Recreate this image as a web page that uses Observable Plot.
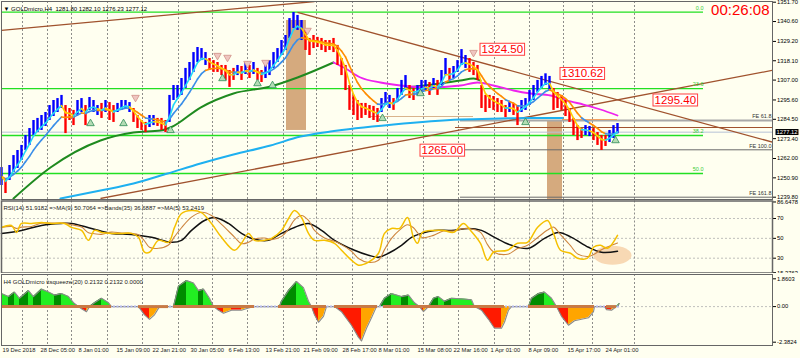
<!DOCTYPE html>
<html><head><meta charset="utf-8">
<script src="https://cdn.jsdelivr.net/npm/d3@7"></script>
<script src="https://cdn.jsdelivr.net/npm/@observablehq/plot@0.6"></script>
<style>
html,body{margin:0;padding:0;background:#fffff0;}
#chart{position:relative;width:800px;height:358px;background:#fffff0;overflow:hidden;}
</style></head><body><div id="chart"></div>
<script>
const FONT = "'Liberation Sans', Arial, sans-serif";
const BG = "#fffff0";

// ---------- main panel: GOLDmicro H4 (one sample = 4 bars) ----------
const sampleStep = 4;
const priceHigh = [1256.8,1250.5,1258.0,1263.7,1266.6,1269.5,1275.2,1279.2,1283.8,1285.0,
1286.7,1288.4,1292.4,1295.3,1296.4,1298.2,1292.4,1290.7,1289.6,1295.3,
1296.4,1292.4,1297.0,1295.3,1292.4,1293.6,1295.3,1294.1,1292.4,1293.6,
1295.3,1295.3,1294.1,1290.7,1286.7,1283.8,1282.7,1286.7,1286.7,1285.0,
1285.0,1283.8,1298.2,1303.9,1303.9,1307.9,1313.7,1317.1,1322.8,1325.7,
1325.1,1322.8,1319.4,1318.2,1317.1,1315.4,1315.4,1312.5,1313.7,1315.4,
1314.8,1317.1,1315.4,1317.1,1313.7,1312.5,1315.4,1318.2,1322.8,1325.1,
1329.7,1332.6,1342.3,1345.8,1344.1,1341.2,1335.5,1330.9,1332.6,1331.5,
1330.9,1329.7,1329.7,1330.9,1326.9,1319.4,1315.4,1303.9,1298.2,1295.3,
1293.6,1293.6,1292.4,1291.9,1290.7,1296.4,1299.9,1298.2,1296.4,1302.2,
1306.8,1309.6,1303.9,1302.2,1303.9,1306.8,1306.8,1305.6,1307.9,1306.8,
1312.5,1319.4,1313.7,1314.8,1318.2,1324.5,1321.1,1319.4,1317.1,1315.4,
1303.9,1298.2,1298.2,1297.6,1296.4,1295.3,1292.4,1294.1,1293.6,1292.4,
1295.3,1296.4,1301.0,1303.9,1306.8,1309.1,1310.6,1309.1,1302.2,1299.9,
1298.2,1295.3,1290.7,1285.0,1280.9,1279.2,1280.9,1280.4,1279.2,1276.9,
1275.2,1275.2,1278.1,1280.9,1282.1];
const priceLow = [1246.5,1241.9,1249.4,1254.0,1256.3,1260.9,1266.6,1269.5,1275.2,1276.9,
1278.1,1280.4,1283.8,1286.1,1288.4,1290.7,1276.3,1283.8,1280.9,1286.7,
1288.4,1280.9,1289.6,1288.4,1286.7,1285.0,1288.4,1283.8,1282.7,1288.4,
1289.6,1290.7,1288.4,1282.7,1279.2,1278.1,1276.9,1279.8,1280.9,1280.4,
1278.1,1276.9,1282.7,1295.3,1296.4,1298.2,1302.2,1306.8,1311.4,1317.1,
1318.2,1315.4,1312.5,1311.4,1311.4,1309.6,1306.8,1302.8,1306.8,1309.6,
1306.8,1310.2,1307.9,1310.2,1306.8,1305.6,1307.9,1309.6,1313.7,1317.1,
1321.1,1324.0,1330.9,1336.6,1335.5,1329.7,1324.0,1321.1,1325.1,1325.7,
1324.0,1322.8,1324.0,1322.8,1315.4,1309.6,1301.0,1289.6,1286.7,1283.8,
1285.0,1286.7,1285.0,1283.8,1282.7,1288.4,1292.4,1290.7,1289.6,1295.3,
1298.2,1301.0,1296.4,1295.3,1298.2,1299.9,1301.0,1298.2,1302.2,1298.2,
1303.9,1309.6,1306.8,1307.9,1311.4,1315.4,1313.7,1311.4,1309.6,1306.8,
1290.7,1288.4,1290.7,1289.6,1288.4,1288.4,1285.5,1288.4,1286.7,1280.9,
1288.4,1289.6,1292.4,1295.3,1299.9,1302.2,1303.9,1301.0,1289.6,1290.7,
1289.6,1286.1,1282.7,1275.2,1272.3,1273.5,1275.2,1274.6,1272.3,1269.5,
1266.6,1268.9,1271.2,1273.5,1276.2];
// b = blue (up) bar, r = red (down) bar
const barDir = "brbbbbbbbb"+"bbbbbbrrrb"+"brbbbrbrrb"+"bbbrrrrbbr"+"rrbbbbbbbb"+
               "bbrrrrrrrb"+"rbrbrrbbbb"+"bbbbbbrrrr"+"rrrrrrrrrr"+"rrrrrbbbrb"+
               "bbrrbbbrbr"+"bbrbbbbrrr"+"rrrrrrrbrr"+"bbbbbbbbrr"+"rrrrrrbbrr"+"rrbbb";

const priceTicks = [1351.70,1340.60,1329.20,1318.10,1307.00,1295.60,1284.50,1273.40,1262.00,1250.90,1239.80];
const gridBars = [21,46,70,106,141,177,211,246,282,315,351,386,422,457,493,528,562,591,633];
const timeLabels = ["19 Dec 2018","28 Dec 05:00","8 Jan 01:00","15 Jan 09:00","22 Jan 21:00","30 Jan 05:00",
  "6 Feb 13:00","13 Feb 21:00","21 Feb 09:00","28 Feb 17:00","8 Mar 01:00","15 Mar 08:00","22 Mar 16:00",
  "1 Apr 01:00","8 Apr 09:00","15 Apr 17:00","24 Apr 01:00"];
const timeLabelBars = [1,39,77,115,151,189,227,264,302,341,377,416,452,489,527,566,604];

// Fibonacci retracement levels
const fiboNames = ["0.0","23.6","38.2","50.0"];
const fiboPrices = [1346.0,1302.1,1275.2,1253.4];
const fiboEndBar = 702;
// Fibonacci expansion levels
const feNames = ["FE 61.8","FE 100.0","FE 161.8"];
const fePrices = [1283.8,1267.0,1239.8];
const feStartBar = 459;

// trend lines
const trendStartBar = [0,296,99];
const trendStartPrice = [1335.5,1345.8,1239.05];
const trendEndBar = [313,771,771];
const trendEndPrice = [1352.1,1271.4,1312.6];

// tan boxes
const boxStartBar = [285,546];
const boxEndBar = [305,561];
const boxTopPrice = [1341.2,1283.8];
const boxBottomPrice = [1278.1,1238.5];

// short horizontal segments
const segStartBar = [369,561,454];
const segEndBar = [472,616,771];
const segPrice = [1286.1,1284.4,1279.8];
const segColor = ["#d9b48c","#f0a060","#a0522d"];

const lastPrice = 1277.12;

// long moving averages
const skyBars = [59,99,132,166,199,232,269,299,329,392,459,499,529,561];
const skyPrices = [1239.05,1243.64,1247.66,1253.39,1259.13,1264.30,1269.46,1274.63,1277.50,1281.52,1284.39,1284.96,1285.25,1285.25];
const greenBars = [12,49,99,132,159,169,199,232,269,296,332];
const greenPrices = [1239.05,1256.84,1272.34,1276.92,1278.07,1279.79,1291.27,1299.31,1303.33,1308.49,1317.10];
const magentaBars = [332,344,359,379,399,426,459,476,492,512,529,549,569,582,599,616];
const magentaPrices = [1317.10,1313.65,1308.49,1305.62,1303.90,1302.75,1303.90,1305.62,1303.90,1301.03,1299.31,1298.16,1294.72,1292.99,1290.13,1286.68];
const green2Bars = [406,439,459,472,479];
const green2Prices = [1302.75,1305.05,1306.77,1307.91,1306.77];

// fractal arrows
const fracHighBars = [134,216,226,246,264,306,472];
const fracHighPrices = [1297.0,1321.1,1320.0,1316.5,1317.1,1335.5,1322.8];
const fracLowBars = [89,122,169,221,256,271,381,419,524,614];
const fracLowPrices = [1282.1,1282.1,1278.1,1307.9,1305.0,1303.9,1285.0,1299.3,1282.7,1272.3];

// price labels
const labelTexts = ["1324.50","1310.62","1295.40","1265.00"];
const labelBars = [478,558,651,418];
const labelPrices = [1324.50,1310.62,1295.40,1266.6];

const titleText = "\u25BC GOLDmicro,H4  1281.80 1282.10 1276.23 1277.12";
const clockText = "00:26:08";

// ---------- RSI panel ----------
const rsiHeader = "RSI(14) 51.9182 =>MA(9) 50.7064 =>Bands(35) 36.6887 =>MA(5) 53.2419";
const rsiBars = [0,10,15,20,30,40,50,63,70,80,87,93,100,110,120,130,137,143,148,157,167,173,180,190,200,210,220,233,240,247,253,263,270,280,287,293,300,307,313,323,333,340,350,357,367,377,383,390,398,406,412,416,421,432,442,452,462,469,479,486,492,506,516,526,536,546,552,559,569,576,586,592,599,606,616];
const rsiVals = [61,63,56,65,65,66,65,65,61,58,48,58,56,55,55,55,51,36,36,48,46,61,75,78,76,65,51,38,45,55,48,48,50,58,70,78,71,55,48,48,45,38,28,23,26,35,55,60,60,71,51,45,56,58,58,56,65,58,45,28,36,38,45,46,61,68,55,38,35,30,30,41,43,40,53];
const rsiSlowBars = [0,20,40,60,70,90,110,130,150,170,180,190,203,213,227,240,253,267,280,293,307,320,333,353,367,377,387,400,410,420,433,450,467,480,493,510,527,543,557,570,587,600,616];
const rsiSlowVals = [55,58,63,65,65,60,55,54,51,46,48,58,68,71,65,55,49,48,55,61,65,58,48,38,33,31,35,43,51,55,58,58,60,58,51,43,40,50,56,51,41,36,37];
const rsiTicks = [86.6478,70,50,30,15.3763];
const rsiTickLabels = ["86.6478","70","50","30","15.3763"];
const rsiLevels = [70,50,30];
const highlightBar = 611, highlightRsi = 33;

// ---------- squeeze panel ----------
const sqHeader = "H4 GOLDmicro ttsqueeze(20) 0.2132 0.2132 0.0000";
const sqBars = [0,7,13,18,27,32,40,47,53,60,67,72,77,80,85,88,93,100,107,110,137,143,148,153,158,172,177,185,192,197,202,208,212,217,222,230,240,247,252,278,280,287,295,302,307,310,313,317,322,325,333,340,350,357,360,365,370,375,378,383,390,400,407,413,418,422,427,432,437,443,450,460,470,473,480,487,493,500,503,507,510,527,530,537,543,550,555,560,567,573,580,587,592,593,603,605,610,615,618];
const sqVals = [0.87,0.67,0.97,0.56,1.07,0.67,1.17,0.97,0.77,0.87,0.67,0.26,0,-0.14,-0.34,0,0.26,0.56,0.26,0,0,-0.55,-0.85,-0.55,0,0,1.37,1.74,1.58,1.07,1.17,0.56,0,-0.24,-0.44,-0.24,-0.24,-0.1,0,0,0.36,1.07,1.68,1.27,0.36,0,-0.55,-1.05,-0.65,0,0,-0.34,-1.25,-2.06,-2.3,-1.45,-0.75,0,0,0.56,0.87,0.67,0.77,0.26,0,-0.34,0,0.56,0.67,0.36,0.56,0.52,0.46,0,-0.24,-0.85,-1.45,-1.45,-1.05,-0.24,0,0,0.56,0.87,0.97,0.56,0,-0.65,-1.25,-0.95,-0.85,-0.75,-0.34,0,0,-0.2,-0.24,0,0.2];
const sqOnStart = [0,137,172,277,333,382,527,605];
const sqOnEnd = [110,167,253,325,376,503,593,615];
const sqTicks = [1.8603,0,-2.3824];
const sqTickLabels = ["1.8603","0.00","-2.3824"];

// ================= build =================
const samples = priceHigh.map((h, i) => ({bar: i * sampleStep, hi: h, lo: priceLow[i], dir: barDir[i]}));
const mid = samples.map(d => (d.hi + d.lo) / 2);
function ema(vals, a) { const out = []; let e = vals[0]; for (const v of vals) { e += a * (v - e); out.push(e); } return out; }
const fastMA = ema(mid, 0.5), slowMA = ema(mid, 0.22);
function colorSegments(ma, upC, dnC) {
  const out = [];
  for (let i = 1; i < samples.length; i++) {
    const c = samples[i].dir === "b" ? upC : dnC;
    out.push({bar: samples[i-1].bar, p: ma[i-1], s: i, c}, {bar: samples[i].bar, p: ma[i], s: i, c});
  }
  return out;
}
const fastSegs = colorSegments(fastMA, "#22d8f8", "#ffcc00");
const slowSegs = colorSegments(slowMA, "#3a8ee8", "#ff8c00");

const zip = (bars, vals) => bars.map((b, i) => ({bar: b, p: vals[i]}));
const fibo = fiboNames.map((n, i) => ({name: n, p: fiboPrices[i]}));
const fe = feNames.map((n, i) => ({name: n, p: fePrices[i]}));
const trends = trendStartBar.map((b, i) => ({b1: b, p1: trendStartPrice[i], b2: trendEndBar[i], p2: trendEndPrice[i]}));
const boxes = boxStartBar.map((b, i) => ({b1: b, b2: boxEndBar[i], p1: boxTopPrice[i], p2: boxBottomPrice[i]}));
const segs = segStartBar.map((b, i) => ({b1: b, b2: segEndBar[i], p: segPrice[i], c: segColor[i]}));
const plabels = labelTexts.map((t, i) => ({t, bar: labelBars[i], p: labelPrices[i]}));

const xDomain = [0, 771];
const common = {width: 800, marginLeft: 1, marginRight: 28, x: {domain: xDomain, axis: null}, color: {type: "identity"},
  style: {background: BG, fontFamily: FONT, fontSize: "6px", color: "#000", overflow: "visible"}};

const main = Plot.plot({
  ...common, height: 200, marginTop: 1, marginBottom: 1,
  y: {domain: [1238.48, 1352.10]},
  marks: [
    Plot.rect(boxes, {x1: "b1", x2: "b2", y1: "p1", y2: "p2", fill: "#d5aa7e"}),
    Plot.ruleX(gridBars, {stroke: "#707070", strokeDasharray: "2,2", strokeWidth: 0.8}),
    Plot.ruleY(fibo, {y: "p", x1: () => 0, x2: () => fiboEndBar, stroke: "#22e022", strokeWidth: 1.4}),
    Plot.ruleY([lastPrice], {x1: () => 0, x2: () => 771, stroke: "#b6c2d6", strokeWidth: 1}),
    Plot.ruleY(fe.slice(0, 1), {y: "p", x1: () => feStartBar, x2: () => 771, stroke: "#a8a8a8", strokeWidth: 2}),
    Plot.ruleY(fe.slice(1), {y: "p", x1: () => feStartBar, x2: () => 771, stroke: "#6a6a6a", strokeWidth: 1}),
    Plot.ruleY(segs, {y: "p", x1: "b1", x2: "b2", stroke: "c", strokeWidth: 1.2}),
    Plot.link(trends, {x1: "b1", y1: "p1", x2: "b2", y2: "p2", stroke: "#a0522d", strokeWidth: 1.3, clip: true}),
    Plot.line(zip(skyBars, skyPrices), {x: "bar", y: "p", stroke: "#1eb0f0", strokeWidth: 2, curve: "monotone-x", clip: true}),
    Plot.line(zip(greenBars, greenPrices), {x: "bar", y: "p", stroke: "#1f8a1f", strokeWidth: 2, curve: "monotone-x", clip: true}),
    Plot.line(zip(green2Bars, green2Prices), {x: "bar", y: "p", stroke: "#1f8a1f", strokeWidth: 2, curve: "monotone-x"}),
    Plot.line(zip(magentaBars, magentaPrices), {x: "bar", y: "p", stroke: "#ee22ee", strokeWidth: 1.8, curve: "monotone-x"}),
    Plot.ruleX(samples, {x: "bar", y1: "lo", y2: "hi", stroke: d => d.dir === "b" ? "#0000ff" : "#ff0000", strokeWidth: 2.4}),
    Plot.line(slowSegs, {x: "bar", y: "p", z: "s", stroke: "c", strokeWidth: 1.6}),
    Plot.line(fastSegs, {x: "bar", y: "p", z: "s", stroke: "c", strokeWidth: 1.6}),
    Plot.dot(zip(fracHighBars, fracHighPrices), {x: "bar", y: "p", symbol: "triangle", rotate: 180, r: 2.8, fill: "#efc6c0", stroke: "#d09088", strokeWidth: 0.8}),
    Plot.dot(zip(fracLowBars, fracLowPrices), {x: "bar", y: "p", symbol: "triangle", r: 2.8, fill: "#b4dcb4", stroke: "#2e8b57", strokeWidth: 0.8}),
    Plot.text(fibo, {x: () => fiboEndBar, y: "p", text: "name", textAnchor: "end", dy: -4, fill: "#33cc33", fontSize: 5.5}),
    Plot.text(fe, {x: () => 771, y: "p", text: "name", textAnchor: "end", dx: -1, dy: -4, fill: "#333", fontSize: 5.5}),
    Plot.text(plabels, {x: "bar", y: "p", text: "t", textAnchor: "start", dx: 2, fill: "#ff0000", fontSize: 11.5}),
    Plot.text([lastPrice], {x: () => 771, y: d => d, text: d => d.toFixed(2), textAnchor: "start", dx: 4, fill: "#ffffff", fontSize: 5.8}),
    Plot.text([titleText], {frameAnchor: "top-left", text: d => d, dx: 2, dy: 5, fill: "#000", fontSize: 6}),
    Plot.text([clockText], {frameAnchor: "top-right", text: d => d, dx: -3, dy: 3, lineAnchor: "top", fill: "#ff0000", fontSize: 15}),
    Plot.axisY({anchor: "right", ticks: priceTicks, tickFormat: d => d.toFixed(2), tickSize: 3, tickPadding: 1.5, label: null, fontSize: 5.8}),
    Plot.frame({stroke: "#666", strokeWidth: 1})
  ]
});

const ellipseSymbol = {draw(ctx, size) {
  const r = Math.sqrt(size / Math.PI), rx = 2 * r, ry = r, k = 0.5523;
  ctx.moveTo(rx, 0);
  ctx.bezierCurveTo(rx, ry * k, rx * k, ry, 0, ry);
  ctx.bezierCurveTo(-rx * k, ry, -rx, ry * k, -rx, 0);
  ctx.bezierCurveTo(-rx, -ry * k, -rx * k, -ry, 0, -ry);
  ctx.bezierCurveTo(rx * k, -ry, rx, -ry * k, rx, 0);
  ctx.closePath();
}};
const rsi = rsiBars.map((b, i) => ({bar: b, v: rsiVals[i]}));
const rsiSlow = rsiSlowBars.map((b, i) => ({bar: b, v: rsiSlowVals[i]}));
const rsiLabelMap = new Map(rsiTicks.map((t, i) => [t, rsiTickLabels[i]]));

const rsiPlot = Plot.plot({
  ...common, height: 73, marginTop: 0.5, marginBottom: 0.5,
  y: {domain: [15.09, 87.63]},
  marks: [
    Plot.ruleX(gridBars, {stroke: "#707070", strokeDasharray: "2,2", strokeWidth: 0.8}),
    Plot.ruleY(rsiLevels, {stroke: "#b0b0b0", strokeDasharray: "2,2", strokeWidth: 0.8}),
    Plot.dot([{bar: highlightBar, v: highlightRsi}], {x: "bar", y: "v", symbol: ellipseSymbol, r: 9.5, fill: "#f8d9b4", stroke: "none"}),
    Plot.line(rsiSlow, {x: "bar", y: "v", stroke: "#111", strokeWidth: 1.5, curve: "catmull-rom"}),
    Plot.line(rsi, Plot.windowY({k: 3, anchor: "end", reduce: "mean"}, {x: "bar", y: "v", stroke: "#cd853f", strokeWidth: 1.1, curve: "catmull-rom"})),
    Plot.line(rsi, {x: "bar", y: "v", stroke: "#f5c000", strokeWidth: 1.5, curve: "catmull-rom"}),
    Plot.text([rsiHeader], {frameAnchor: "top-left", text: d => d, dx: 2, dy: 4.5, fill: "#222", fontSize: 6}),
    Plot.axisY({anchor: "right", ticks: rsiTicks, tickFormat: d => rsiLabelMap.get(d), tickSize: 3, tickPadding: 1.5, label: null, fontSize: 5.8}),
    Plot.frame({stroke: "#666", strokeWidth: 1.5})
  ]
});

const sq = sqBars.map((b, i) => ({bar: b, v: sqVals[i]}));
const sqPairs = [];
for (let i = 1; i < sq.length; i++) {
  const a = sq[i-1], b = sq[i], m = (a.v + b.v) / 2;
  let c;
  if (m >= 0) c = b.v >= a.v ? "#008c00" : "#22ee22";
  else c = b.v <= a.v ? "#ff1a00" : "#ffa500";
  sqPairs.push({bar: a.bar, v: a.v, s: i, c}, {bar: b.bar, v: b.v, s: i, c});
}
const sqOn = sqOnStart.map((s, i) => ({b1: s, b2: sqOnEnd[i]}));
const sqLabelMap = new Map(sqTicks.map((t, i) => [t, sqTickLabels[i]]));
const times = timeLabels.map((t, i) => ({t, bar: timeLabelBars[i]}));

const sqPlot = Plot.plot({
  ...common, height: 85, marginTop: 1, marginBottom: 13,
  y: {domain: [-2.604, 2.149]},
  marks: [
    Plot.ruleX(gridBars, {stroke: "#707070", strokeDasharray: "2,2", strokeWidth: 0.8}),
    Plot.ruleY([0], {stroke: "#b0b0b0", strokeDasharray: "2,2", strokeWidth: 0.8}),
    Plot.area(sqPairs, {x1: "bar", y1: () => 0, y2: "v", z: "s", fill: "c"}),
    Plot.line(sq, {x: "bar", y: "v", stroke: "#8a8a8a", strokeWidth: 1.1}),
    Plot.ruleY([0], {x1: () => 0, x2: () => 618, stroke: "#b4b8ec", strokeDasharray: "2,1.5", strokeWidth: 2}),
    Plot.ruleY(sqOn, {y: () => 0, x1: "b1", x2: "b2", stroke: "#c87a45", strokeWidth: 3}),
    Plot.text([sqHeader], {frameAnchor: "top-left", text: d => d, dx: 2, dy: 5, fill: "#222", fontSize: 6}),
    Plot.text(times, {x: "bar", text: "t", frameAnchor: "bottom", textAnchor: "start", dy: 6, fill: "#222", fontSize: 5.8}),
    Plot.axisY({anchor: "right", ticks: sqTicks, tickFormat: d => sqLabelMap.get(d), tickSize: 3, tickPadding: 1.5, label: null, fontSize: 5.8}),
    Plot.frame({stroke: "#666", strokeWidth: 1})
  ]
});

const container = document.getElementById("chart");
function place(svg, top) {
  svg.style.position = "absolute"; svg.style.left = "0px"; svg.style.top = top + "px";
  container.appendChild(svg);
}
place(main, 0); place(rsiPlot, 200); place(sqPlot, 273);

function boxLabels(svg, texts, fill, stroke, padX, padY) {
  d3.select(svg).selectAll("text").filter(function () { return texts.includes(this.textContent); }).each(function () {
    const bb = this.getBBox();
    const r = document.createElementNS("http://www.w3.org/2000/svg", "rect");
    r.setAttribute("x", bb.x - padX); r.setAttribute("y", bb.y - padY);
    r.setAttribute("width", bb.width + 2 * padX); r.setAttribute("height", bb.height + 2 * padY);
    const t = this.getAttribute("transform"); if (t) r.setAttribute("transform", t);
    r.setAttribute("fill", fill);
    r.setAttribute("stroke", stroke || "none"); r.setAttribute("stroke-width", 1);
    this.parentNode.insertBefore(r, this);
  });
}
boxLabels(main, labelTexts, "#ffffff", "#ff4040", 1.5, 0);
boxLabels(main, [lastPrice.toFixed(2)], "#000000", null, 1, 0);
</script></body></html>
